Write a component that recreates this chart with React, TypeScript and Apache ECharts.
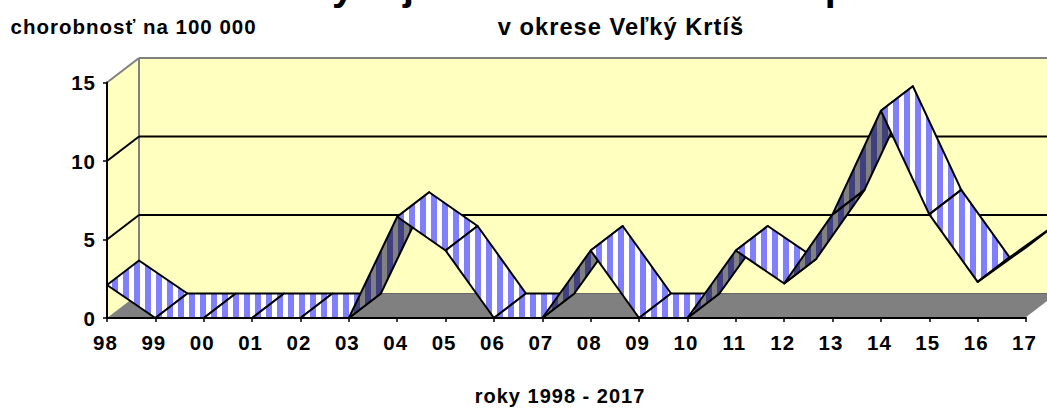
import React, { useEffect, useRef } from "react";
import * as echarts from "echarts";

const years = ["98","99","00","01","02","03","04","05","06","07","08","09","10","11","12","13","14","15","16","17"];
const incidence = [2.1,0,0,0,0,0,6.45,4.3,0,0,4.3,0,0,4.3,2.2,6.6,13.2,6.6,2.3,4.5];
const yTicks = [0,5,10,15];
const wallGrid = [5,10];
const titleLine = "Vývoj chorobnosti na A hepatitídu";
const subTitle = "v okrese Veľký Krtíš";
const yName = "chorobnosť na 100 000";
const xName = "roky 1998 - 2017";

const DX = 32, DY = -24.5;
const FONT = "Liberation Sans";

function stripes(base: string, stripe: string) {
  const c = document.createElement("canvas");
  c.width = 11; c.height = 11;
  const g = c.getContext("2d")!;
  g.fillStyle = base; g.fillRect(0,0,11,11);
  g.fillStyle = stripe; g.fillRect(2,0,6,11);
  return { image: c, repeat: "repeat", imageWidth: 11, imageHeight: 11 } as any;
}

export default function App() {
  const ref = useRef<HTMLDivElement>(null);
  useEffect(() => {
    const chart = echarts.init(ref.current!, null, { renderer: "svg" });
    const light = stripes("#ffffff", "#8080ff");
    const dark = stripes("#808080", "#404080");
    const segments = incidence.slice(0,-1).map((v,i)=>[i,v,incidence[i+1]]);
    const last = years.length - 1;
    const back = (p:number[]) => [p[0]+DX,p[1]+DY];
    chart.setOption({
      animation:false,
      backgroundColor:"#ffffff",
      grid:{left:107,right:21,top:82.5,bottom:90},
      xAxis:{type:"category",data:years,boundaryGap:false,z:10,
        axisLine:{lineStyle:{color:"#000",width:2}},
        axisTick:{length:4,inside:false,alignWithLabel:true,interval:0,lineStyle:{color:"#000",width:1.5}},
        axisLabel:{interval:0,margin:14,color:"#000",fontFamily:FONT,fontWeight:"bold",fontSize:20.5,padding:[0,3,0,0]},
        splitLine:{show:false}},
      yAxis:{type:"value",min:0,max:15,interval:5,z:10,
        axisLine:{show:true,onZero:false,lineStyle:{color:"#000",width:2}},
        axisTick:{show:true,length:4,lineStyle:{color:"#000",width:1.5}},
        axisLabel:{margin:11,color:"#000",fontFamily:FONT,fontWeight:"bold",fontSize:20.5,
          formatter:(v:number)=>yTicks.includes(v)?String(v):""},
        splitLine:{show:false}},
      graphic:[
        {type:"text",x:640,y:-34,style:{text:titleLine,fill:"#000",font:`bold 39.5px "${FONT}"`,textAlign:"center",textVerticalAlign:"top"}},
        {type:"text",x:621,y:15,style:{text:subTitle,fill:"#000",font:`bold 23.7px "${FONT}"`,textAlign:"center",textVerticalAlign:"top"}},
        {type:"text",x:10.5,y:15.5,style:{text:yName,fill:"#000",font:`bold 20.5px "${FONT}"`,textAlign:"left",textVerticalAlign:"top"}},
        {type:"text",x:560,y:386,style:{text:xName,fill:"#000",font:`bold 20px "${FONT}"`,textAlign:"center",textVerticalAlign:"top"}},
      ],
      series:[
        {type:"custom",coordinateSystem:"cartesian2d",clip:false,silent:true,z:1,
          data:[[0,0]],
          renderItem:(_p:any,api:any)=>{
            const o=api.coord([0,0]), t=api.coord([0,15]), e=api.coord([last,0]);
            const bo=back(o), bt=back(t), be=back(e);
            const kids:any[]=[
              {type:"polygon",shape:{points:[t,bt,bo,o]},style:{fill:"#ffffc0"}},
              {type:"rect",shape:{x:bt[0],y:bt[1],width:be[0]-bt[0],height:bo[1]-bt[1]},style:{fill:"#ffffc0"}},
              {type:"line",shape:{x1:t[0],y1:t[1],x2:bt[0],y2:bt[1]},style:{stroke:"#808080",lineWidth:2}},
              {type:"line",shape:{x1:bt[0],y1:bt[1],x2:be[0],y2:bt[1]},style:{stroke:"#808080",lineWidth:2}},
              {type:"line",shape:{x1:bt[0],y1:bt[1],x2:bo[0],y2:bo[1]},style:{stroke:"#808080",lineWidth:2}},
            ];
            wallGrid.forEach(v=>{
              const a=api.coord([0,v]), b=back(a), c=back(api.coord([last,v]));
              kids.push({type:"line",shape:{x1:a[0],y1:a[1],x2:b[0],y2:b[1]},style:{stroke:"#000",lineWidth:2}});
              kids.push({type:"line",shape:{x1:b[0],y1:b[1],x2:c[0],y2:c[1]},style:{stroke:"#000",lineWidth:2}});
            });
            kids.push({type:"polygon",shape:{points:[o,e,be,bo]},style:{fill:"#808080"}});
            kids.push({type:"line",shape:{x1:bo[0],y1:bo[1],x2:be[0],y2:be[1]},style:{stroke:"#666",lineWidth:1}});
            kids.push({type:"line",shape:{x1:e[0],y1:e[1],x2:be[0],y2:be[1]},style:{stroke:"#fff",lineWidth:1.5}});
            return {type:"group",children:kids};
          }},
        {type:"custom",coordinateSystem:"cartesian2d",clip:false,silent:true,z:2,
          data:segments,
          encode:{x:0,y:1},
          renderItem:(_p:any,api:any)=>{
            const i=api.value(0), a=api.value(1), b=api.value(2);
            const f0=api.coord([i,a]), f1=api.coord([i+1,b]);
            const rising=b>a;
            return {type:"polygon",shape:{points:[f0,f1,back(f1),back(f0)]},
              style:{fill:rising?dark:light,stroke:"#000",lineWidth:2,lineJoin:"round"}};
          }},
      ],
    });
    return ()=>chart.dispose();
  },[]);
  return (
    <>
      <style>{`html,body{margin:0;padding:0;overflow:hidden;background:#fff} svg text{letter-spacing:1px}`}</style>
      <div ref={ref} style={{position:"fixed",left:0,top:0,width:1047,height:408}} />
    </>
  );
}
